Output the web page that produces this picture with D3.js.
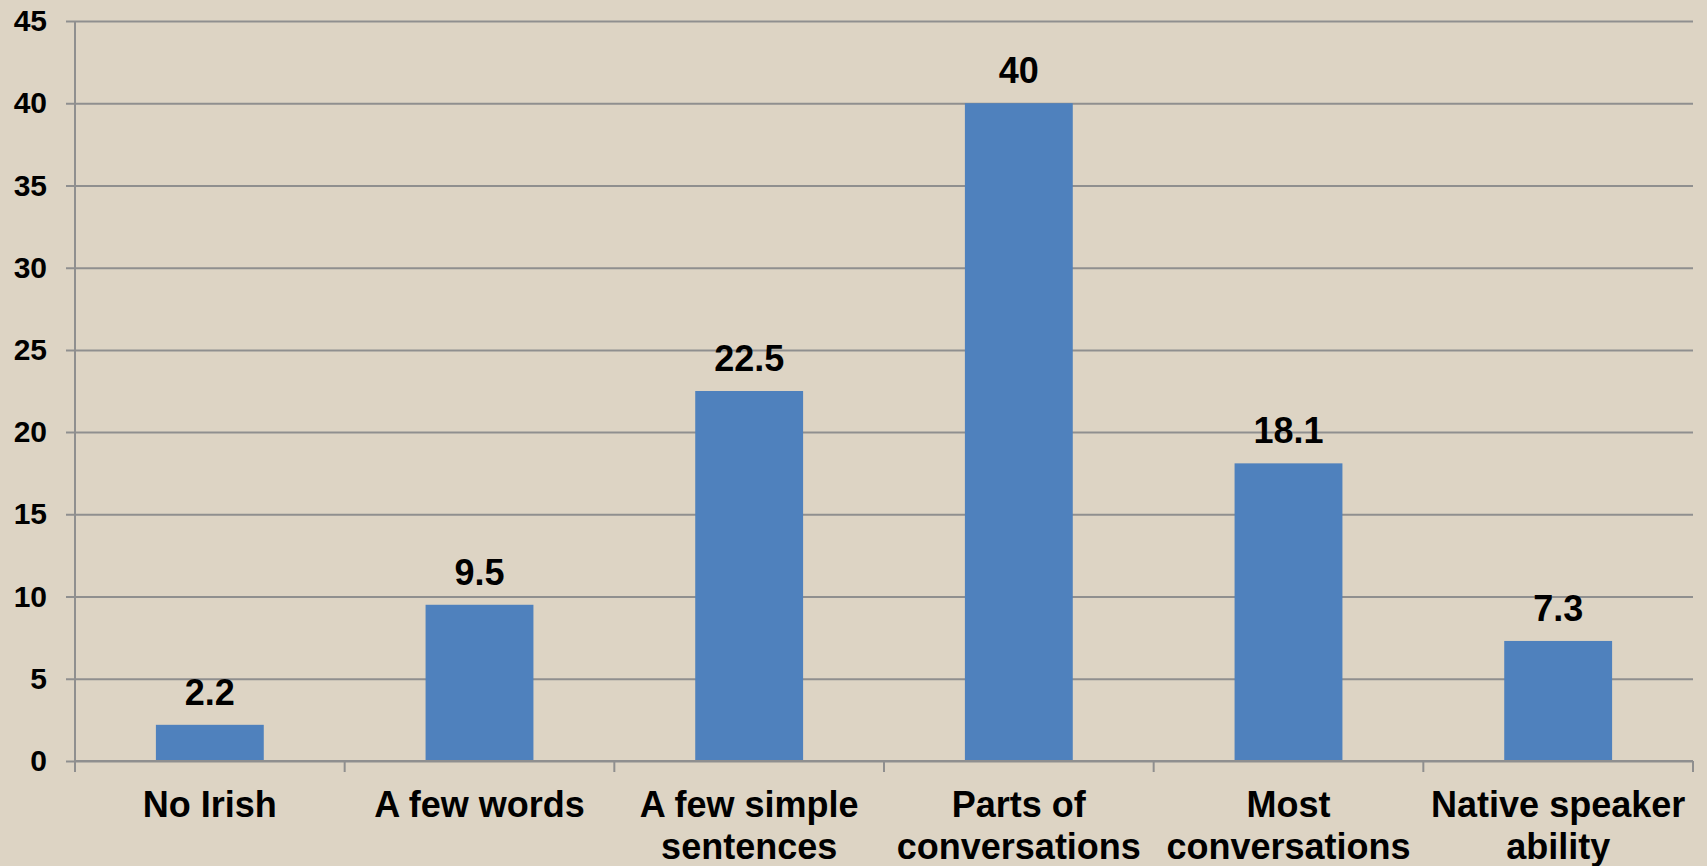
<!DOCTYPE html>
<html>
<head>
<meta charset="utf-8">
<script src="https://cdn.jsdelivr.net/npm/d3@7"></script>
<style>
  html, body { margin: 0; padding: 0; background: #ddd4c4; overflow: hidden; }
  svg { display: block; font-family: "Liberation Sans", Arial, sans-serif; font-weight: bold; }
</style>
</head>
<body>
<svg id="chart" width="1707" height="866"></svg>
<script>
const categories = [
  ['No Irish'],
  ['A few words'],
  ['A few simple', 'sentences'],
  ['Parts of', 'conversations'],
  ['Most', 'conversations'],
  ['Native speaker', 'ability']
]
const values = [2.2, 9.5, 22.5, 40, 18.1, 7.3]
const yTicks = [0, 5, 10, 15, 20, 25, 30, 35, 40, 45]

const margin = { top: 21, right: 14, bottom: 105, left: 75 }
const width = 1707 - margin.left - margin.right
const height = 866 - margin.top - margin.bottom

const svg = d3.select('#chart')
const g = svg.append('g')
  .attr('transform', 'translate(' + margin.left + ',' + margin.top + ')')

const x = d3.scaleBand()
  .domain(d3.range(values.length))
  .range([0, width])
  .padding(0)

const y = d3.scaleLinear()
  .domain([0, 45])
  .range([height, 0])

const gridColor = '#8f8f8f'

// gridlines + y labels
const yAxis = g.append('g')
  .call(d3.axisLeft(y).tickValues(yTicks).tickSize(9).tickPadding(19))
yAxis.select('.domain').attr('stroke', gridColor).attr('stroke-width', 2)
  .attr('d', 'M0,' + height + 'V0')
yAxis.selectAll('.tick line').attr('stroke', gridColor).attr('stroke-width', 2)
  .attr('x1', width)
yAxis.selectAll('.tick text')
  .attr('fill', '#000')
  .style('font-size', '30px')
  .style('font-weight', 'bold')
  .style('font-family', '"Liberation Sans", Arial, sans-serif')

// bars
const barW = x.bandwidth() * 0.4
g.selectAll('rect.bar')
  .data(values)
  .enter().append('rect')
  .attr('class', 'bar')
  .attr('x', (d, i) => x(i) + (x.bandwidth() - barW) / 2)
  .attr('y', d => y(d))
  .attr('width', barW)
  .attr('height', d => height - y(d))
  .attr('fill', '#4f81bd')

// x axis line and ticks
const xAxis = g.append('g')
  .attr('transform', 'translate(0,' + height + ')')
const bounds = d3.range(values.length + 1).map(i => i < values.length ? x(i) : width)
xAxis.append('line')
  .attr('x1', 0).attr('x2', width)
  .attr('stroke', gridColor).attr('stroke-width', 2)
xAxis.selectAll('line.tick')
  .data(bounds)
  .enter().append('line')
  .attr('class', 'tick')
  .attr('x1', d => d).attr('x2', d => d)
  .attr('y1', 0).attr('y2', 11)
  .attr('stroke', gridColor).attr('stroke-width', 2)

// category labels
const labels = xAxis.selectAll('text.cat')
  .data(categories)
  .enter().append('text')
  .attr('class', 'cat')
  .attr('text-anchor', 'middle')
  .attr('x', (d, i) => x(i) + x.bandwidth() / 2)
  .attr('y', 56)
  .style('font-size', '36px')
  .attr('fill', '#000')
labels.each(function (d) {
  const t = d3.select(this)
  d.forEach((line, j) => {
    t.append('tspan')
      .attr('x', t.attr('x'))
      .attr('dy', j === 0 ? 0 : 42)
      .text(line)
  })
})

// value labels
g.selectAll('text.val')
  .data(values)
  .enter().append('text')
  .attr('class', 'val')
  .attr('text-anchor', 'middle')
  .attr('x', (d, i) => x(i) + x.bandwidth() / 2)
  .attr('y', d => y(d) - 20)
  .style('font-size', '36px')
  .attr('fill', '#000')
  .text(d => d)
</script>
</body>
</html>
